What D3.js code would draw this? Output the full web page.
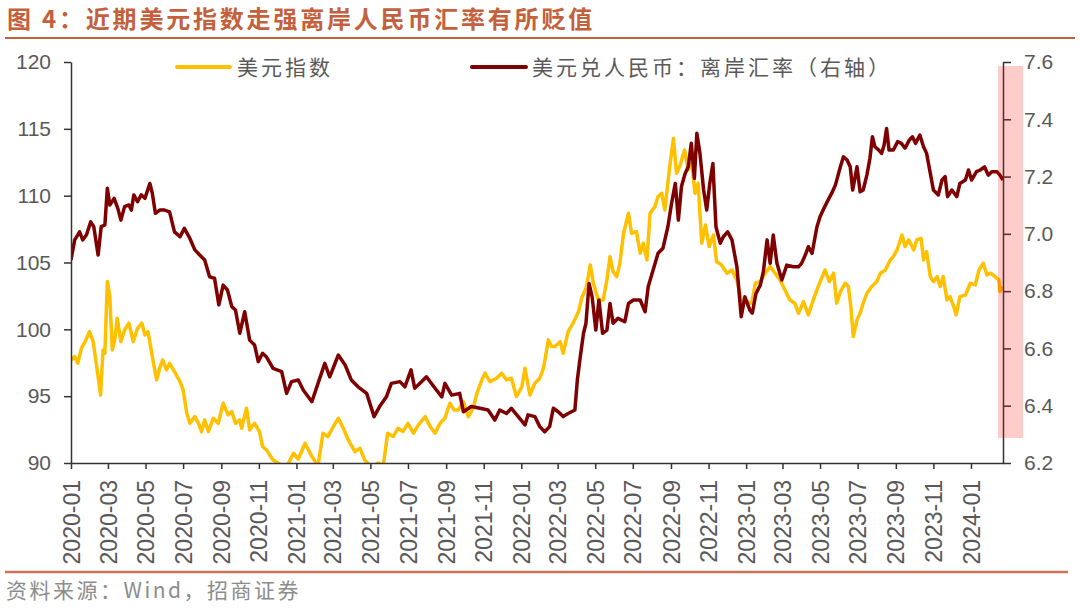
<!DOCTYPE html>
<html><head><meta charset="utf-8">
<script src="https://cdn.jsdelivr.net/npm/d3@7"></script>
<style>body{margin:0;background:#fff;} svg{display:block;}</style>
</head><body><svg id="c" width="1080" height="611"></svg>
<script>
const titleText = "图 4：近期美元指数走强离岸人民币汇率有所贬值";
const sourceText = "资料来源：Wind，招商证券";
const legendLabels = ["美元指数", "美元兑人民币：离岸汇率（右轴）"];
const leftTicks = [90, 95, 100, 105, 110, 115, 120];
const rightTicks = [6.2, 6.4, 6.6, 6.8, 7.0, 7.2, 7.4, 7.6];
const xTickLabels = ["2020-01","2020-03","2020-05","2020-07","2020-09","2020-11",
  "2021-01","2021-03","2021-05","2021-07","2021-09","2021-11",
  "2022-01","2022-03","2022-05","2022-07","2022-09","2022-11",
  "2023-01","2023-03","2023-05","2023-07","2023-09","2023-11","2024-01"];
const xDomain = ["2020-01-01", "2024-02-22"];

// 美元指数 (left axis)
const dxy = [["2020-01-01",97.7],["2020-01-07",97.96],["2020-01-12",97.46],["2020-01-18",98.59],["2020-01-24",99.08],["2020-01-31",99.83],["2020-02-06",99.08],["2020-02-11",97.46],["2020-02-18",95.09],["2020-02-22",98.46],["2020-02-25",98.21],["2020-02-29",103.57],["2020-03-04",102.45],["2020-03-08",98.46],["2020-03-12",99.21],["2020-03-16",100.83],["2020-03-22",99.08],["2020-03-28",99.96],["2020-04-04",100.46],["2020-04-11",99.08],["2020-04-18",100.08],["2020-04-25",100.46],["2020-04-30",99.58],["2020-05-05",99.83],["2020-05-12",97.96],["2020-05-19",96.22],["2020-05-24",97.09],["2020-05-29",97.71],["2020-06-04",96.96],["2020-06-09",97.46],["2020-06-17",96.84],["2020-06-26",96.09],["2020-07-01",95.47],["2020-07-07",93.72],["2020-07-12",92.97],["2020-07-20",93.47],["2020-07-26",92.97],["2020-07-31",92.35],["2020-08-05",93.22],["2020-08-11",92.35],["2020-08-19",93.35],["2020-08-27",92.97],["2020-09-04",94.47],["2020-09-12",93.6],["2020-09-18",93.85],["2020-09-24",92.97],["2020-10-01",93.22],["2020-10-04",92.6],["2020-10-12",94.1],["2020-10-17",92.48],["2020-10-25",92.97],["2020-11-02",92.35],["2020-11-07",91.23],["2020-11-13",91.0],["2020-11-24",90.23],["2020-12-05",89.9],["2020-12-16",89.7],["2020-12-27",90.73],["2021-01-04",90.3],["2021-01-15",91.48],["2021-01-26",90.48],["2021-02-05",89.8],["2021-02-13",92.23],["2021-02-21",91.98],["2021-03-02",92.73],["2021-03-10",93.35],["2021-03-18",92.6],["2021-03-26",91.73],["2021-04-06",90.85],["2021-04-14",91.1],["2021-04-22",90.2],["2021-05-03",89.7],["2021-05-14",90.0],["2021-05-22",89.8],["2021-05-29",92.23],["2021-06-07",91.98],["2021-06-15",92.6],["2021-06-23",92.35],["2021-07-01",92.97],["2021-07-10",92.23],["2021-07-18",92.85],["2021-07-29",93.47],["2021-08-06",92.73],["2021-08-14",92.23],["2021-08-22",92.97],["2021-08-30",93.35],["2021-09-07",94.47],["2021-09-14",93.97],["2021-09-21",93.97],["2021-09-29",94.59],["2021-10-07",93.47],["2021-10-15",94.1],["2021-10-21",95.22],["2021-10-29",96.22],["2021-11-03",96.72],["2021-11-11",96.09],["2021-11-22",96.34],["2021-11-30",96.72],["2021-12-08",96.22],["2021-12-16",96.34],["2021-12-24",94.97],["2022-01-02",95.72],["2022-01-07",97.09],["2022-01-15",95.09],["2022-01-23",95.97],["2022-01-31",96.34],["2022-02-06",97.09],["2022-02-14",99.21],["2022-02-19",98.71],["2022-02-25",98.71],["2022-03-05",99.08],["2022-03-10",98.21],["2022-03-18",99.83],["2022-03-26",100.46],["2022-04-04",101.33],["2022-04-09",102.33],["2022-04-17",103.2],["2022-04-23",104.82],["2022-04-28",103.45],["2022-05-06",102.2],["2022-05-14",102.2],["2022-05-20",103.7],["2022-05-25",105.44],["2022-05-30",104.32],["2022-06-05",103.94],["2022-06-10",104.94],["2022-06-16",107.19],["2022-06-24",108.68],["2022-06-29",107.19],["2022-07-07",107.31],["2022-07-13",105.69],["2022-07-18",106.44],["2022-07-24",105.19],["2022-07-29",108.68],["2022-08-06",109.18],["2022-08-11",109.93],["2022-08-17",110.18],["2022-08-22",108.93],["2022-08-25",110.18],["2022-08-30",112.17],["2022-09-05",114.29],["2022-09-10",111.68],["2022-09-16",112.3],["2022-09-23",113.42],["2022-09-29",111.92],["2022-10-05",112.42],["2022-10-10",110.18],["2022-10-15",110.93],["2022-10-21",106.44],["2022-10-27",107.81],["2022-11-02",106.19],["2022-11-09",107.06],["2022-11-14",105.06],["2022-11-22",104.82],["2022-12-01",104.2],["2022-12-09",104.44],["2022-12-17",103.7],["2022-12-24",102.2],["2023-01-02",102.07],["2023-01-10",101.95],["2023-01-16",103.45],["2023-01-24",103.57],["2023-02-01",104.2],["2023-02-09",104.69],["2023-02-17",104.2],["2023-02-25",103.7],["2023-03-05",102.95],["2023-03-13",102.2],["2023-03-21",101.95],["2023-03-27",101.2],["2023-04-04",102.07],["2023-04-12",101.08],["2023-04-20",102.2],["2023-04-28",103.2],["2023-05-09",104.44],["2023-05-16",103.57],["2023-05-23",104.2],["2023-05-28",101.95],["2023-06-03",102.82],["2023-06-11",103.45],["2023-06-16",103.2],["2023-06-20",101.7],["2023-06-24",99.46],["2023-06-30",100.7],["2023-07-05",101.2],["2023-07-10",101.95],["2023-07-16",102.7],["2023-07-24",103.2],["2023-08-01",103.57],["2023-08-07",104.2],["2023-08-15",104.44],["2023-08-23",105.19],["2023-08-28",105.44],["2023-09-03",105.94],["2023-09-11",107.06],["2023-09-16",106.19],["2023-09-22",106.69],["2023-09-30",105.94],["2023-10-05",106.69],["2023-10-12",106.81],["2023-10-16",105.19],["2023-10-21",105.81],["2023-10-27",103.94],["2023-11-01",103.57],["2023-11-07",103.94],["2023-11-12",103.2],["2023-11-17",103.94],["2023-11-23",102.2],["2023-11-28",102.45],["2023-12-04",101.7],["2023-12-08",101.08],["2023-12-14",102.45],["2023-12-23",102.57],["2023-12-31",103.45],["2024-01-08",103.32],["2024-01-14",104.44],["2024-01-21",104.94],["2024-01-27",104.07],["2024-02-02",104.2],["2024-02-09",103.94],["2024-02-15",103.7],["2024-02-17",102.82],["2024-02-22",103.2]];

// 美元兑人民币：离岸汇率 (right axis)
const cnh = [["2020-01-01",6.909],["2020-01-07",6.979],["2020-01-15",7.007],["2020-01-20",6.979],["2020-01-26",6.996],["2020-02-02",7.042],["2020-02-07",7.025],["2020-02-14",6.926],["2020-02-19",7.025],["2020-02-25",7.031],["2020-02-29",7.159],["2020-03-04",7.101],["2020-03-11",7.124],["2020-03-17",7.089],["2020-03-22",7.048],["2020-03-28",7.095],["2020-04-04",7.101],["2020-04-08",7.083],["2020-04-12",7.136],["2020-04-18",7.112],["2020-04-24",7.136],["2020-04-30",7.124],["2020-05-08",7.176],["2020-05-12",7.142],["2020-05-17",7.072],["2020-05-24",7.083],["2020-06-01",7.083],["2020-06-09",7.077],["2020-06-17",7.007],["2020-06-26",6.99],["2020-07-03",7.019],["2020-07-12",6.984],["2020-07-20",6.944],["2020-07-28",6.926],["2020-08-05",6.909],["2020-08-13",6.85],["2020-08-21",6.845],["2020-08-28",6.752],["2020-09-04",6.821],["2020-09-11",6.804],["2020-09-18",6.746],["2020-09-24",6.734],["2020-10-01",6.653],["2020-10-09",6.728],["2020-10-17",6.629],["2020-10-25",6.612],["2020-10-31",6.554],["2020-11-07",6.583],["2020-11-13",6.571],["2020-11-24",6.53],["2020-12-08",6.519],["2020-12-16",6.443],["2020-12-24",6.484],["2021-01-04",6.49],["2021-01-12",6.455],["2021-01-26",6.414],["2021-02-05",6.478],["2021-02-16",6.548],["2021-02-24",6.501],["2021-03-10",6.577],["2021-03-21",6.542],["2021-03-31",6.49],["2021-04-11",6.466],["2021-04-25",6.443],["2021-05-07",6.362],["2021-05-16",6.397],["2021-05-27",6.431],["2021-06-04",6.478],["2021-06-18",6.484],["2021-06-26",6.466],["2021-07-06",6.525],["2021-07-12",6.461],["2021-07-23",6.484],["2021-07-31",6.501],["2021-08-14",6.461],["2021-08-25",6.431],["2021-08-30",6.478],["2021-09-10",6.437],["2021-09-23",6.443],["2021-09-29",6.379],["2021-10-12",6.397],["2021-10-26",6.391],["2021-11-08",6.385],["2021-11-19",6.35],["2021-11-27",6.385],["2021-12-08",6.373],["2021-12-16",6.391],["2021-12-27",6.362],["2022-01-07",6.333],["2022-01-12",6.368],["2022-01-23",6.362],["2022-01-31",6.327],["2022-02-08",6.309],["2022-02-16",6.327],["2022-02-22",6.391],["2022-03-02",6.379],["2022-03-10",6.362],["2022-03-18",6.373],["2022-03-29",6.385],["2022-04-02",6.49],["2022-04-06",6.559],["2022-04-12",6.653],["2022-04-16",6.688],["2022-04-21",6.827],["2022-04-26",6.78],["2022-05-02",6.664],["2022-05-07",6.769],["2022-05-13",6.653],["2022-05-20",6.664],["2022-05-25",6.757],["2022-05-30",6.688],["2022-06-07",6.705],["2022-06-18",6.693],["2022-06-24",6.757],["2022-07-02",6.769],["2022-07-13",6.769],["2022-07-21",6.728],["2022-07-26",6.815],["2022-08-03",6.874],["2022-08-11",6.932],["2022-08-19",6.95],["2022-08-27",7.025],["2022-09-02",7.107],["2022-09-08",7.176],["2022-09-13",7.048],["2022-09-18",7.165],["2022-09-24",7.211],["2022-09-29",7.234],["2022-10-04",7.316],["2022-10-09",7.194],["2022-10-13",7.351],["2022-10-18",7.281],["2022-10-24",7.153],["2022-10-29",7.083],["2022-11-03",7.176],["2022-11-08",7.246],["2022-11-13",7.025],["2022-11-20",6.967],["2022-11-25",6.99],["2022-12-02",7.007],["2022-12-09",6.979],["2022-12-17",6.885],["2022-12-24",6.711],["2022-12-30",6.78],["2023-01-07",6.734],["2023-01-11",6.723],["2023-01-17",6.792],["2023-01-24",6.821],["2023-01-29",6.868],["2023-02-04",6.979],["2023-02-09",6.897],["2023-02-14",6.996],["2023-02-20",6.897],["2023-02-28",6.839],["2023-03-08",6.891],["2023-03-19",6.885],["2023-03-27",6.885],["2023-04-01",6.897],["2023-04-07",6.926],["2023-04-12",6.955],["2023-04-18",6.932],["2023-04-26",7.025],["2023-05-01",7.06],["2023-05-06",7.083],["2023-05-14",7.118],["2023-05-20",7.142],["2023-05-26",7.171],["2023-06-03",7.234],["2023-06-08",7.269],["2023-06-14",7.258],["2023-06-19",7.234],["2023-06-23",7.153],["2023-06-30",7.234],["2023-07-05",7.147],["2023-07-10",7.153],["2023-07-16",7.205],["2023-07-21",7.264],["2023-07-25",7.339],["2023-07-29",7.304],["2023-08-04",7.293],["2023-08-09",7.281],["2023-08-13",7.31],["2023-08-17",7.368],["2023-08-21",7.293],["2023-08-28",7.293],["2023-09-04",7.322],["2023-09-10",7.316],["2023-09-16",7.299],["2023-09-23",7.328],["2023-09-28",7.339],["2023-10-03",7.316],["2023-10-10",7.345],["2023-10-16",7.304],["2023-10-21",7.281],["2023-10-27",7.211],["2023-11-01",7.153],["2023-11-09",7.136],["2023-11-15",7.188],["2023-11-20",7.2],["2023-11-24",7.13],["2023-12-01",7.153],["2023-12-09",7.13],["2023-12-14",7.176],["2023-12-23",7.188],["2023-12-28",7.223],["2024-01-02",7.188],["2024-01-10",7.217],["2024-01-16",7.223],["2024-01-23",7.234],["2024-01-29",7.205],["2024-02-04",7.217],["2024-02-12",7.217],["2024-02-17",7.205],["2024-02-22",7.188]];

const parse = d3.timeParse("%Y-%m-%d");
const parseM = d3.timeParse("%Y-%m");
const L = 71, R = 1003, T = 62, B = 463;

const svg = d3.select("#c");
const x = d3.scaleTime().domain(xDomain.map(parse)).range([L, R]);
const yL = d3.scaleLinear().domain([90, 120]).range([B, T]);
const yR = d3.scaleLinear().domain([6.2, 7.6]).range([B, T]);

const titleColor = "#C4603C";
const textColor = "#595959";

// title
svg.append("text").attr("x", 7).attr("y", 28)
  .attr("font-family", "'Noto Sans CJK SC', sans-serif").attr("font-size", 24)
  .attr("font-weight", 700).attr("letter-spacing", 2.8)
  .attr("fill", titleColor).text(titleText);
svg.append("line").attr("x1", 5).attr("x2", 1075).attr("y1", 38).attr("y2", 38)
  .attr("stroke", titleColor).attr("stroke-width", 2);

// source
svg.append("line").attr("x1", 5).attr("x2", 1068).attr("y1", 572).attr("y2", 572)
  .attr("stroke", "#C8755A").attr("stroke-width", 2.5);
svg.append("text").attr("x", 6).attr("y", 598)
  .attr("font-family", "'Noto Sans CJK SC', sans-serif").attr("font-size", 21)
  .attr("letter-spacing", 2.5).attr("fill", "#8C8C8C").text(sourceText);

// clip
svg.append("defs").append("clipPath").attr("id", "plot")
  .append("rect").attr("x", L).attr("y", T).attr("width", R - L).attr("height", B - T);

const lineL = d3.line().x(d => x(parse(d[0]))).y(d => yL(d[1]));
const lineR = d3.line().x(d => x(parse(d[0]))).y(d => yR(d[1]));

const g = svg.append("g").attr("clip-path", "url(#plot)");
g.append("path").datum(dxy).attr("d", lineL).attr("fill", "none")
  .attr("stroke", "#FFC000").attr("stroke-width", 3.5).attr("stroke-linejoin", "round");
g.append("path").datum(cnh).attr("d", lineR).attr("fill", "none")
  .attr("stroke", "#7F0000").attr("stroke-width", 3.5).attr("stroke-linejoin", "round");

// axes
const numFont = "'Liberation Sans', Arial, sans-serif";
function styleAxis(sel, fs) {
  sel.selectAll("path").attr("stroke", "#333").attr("stroke-width", 1.5);
  sel.selectAll("line").attr("stroke", "#333").attr("stroke-width", 1.5);
  sel.selectAll("text").attr("font-family", numFont).attr("font-size", fs).attr("fill", textColor);
}
const gl = svg.append("g").attr("transform", `translate(${L},0)`)
  .call(d3.axisLeft(yL).tickValues(leftTicks).tickSize(7).tickSizeOuter(0).tickPadding(13));
styleAxis(gl, 21);
const gr = svg.append("g").attr("transform", `translate(${R},0)`)
  .call(d3.axisRight(yR).tickValues(rightTicks).tickSize(8).tickSizeOuter(0).tickPadding(13).tickFormat(d3.format(".1f")));
styleAxis(gr, 21);
const gb = svg.append("g").attr("transform", `translate(0,${B})`)
  .call(d3.axisBottom(x).tickValues(xTickLabels.map(parseM)).tickSize(6).tickSizeOuter(0).tickFormat(d3.timeFormat("%Y-%m")));
styleAxis(gb, 23);
gb.selectAll("text").attr("transform", "rotate(-90)").attr("text-anchor", "end")
  .attr("x", -17).attr("y", 0).attr("dy", "0.35em");

// legend
const legFont = "'Noto Sans CJK SC', sans-serif";
const legend = [
  {x1: 177, x2: 230, tx: 237, color: "#FFC000", label: legendLabels[0]},
  {x1: 472, x2: 526, tx: 532, color: "#7F0000", label: legendLabels[1]}
];
legend.forEach(l => {
  svg.append("line").attr("x1", l.x1).attr("x2", l.x2).attr("y1", 67).attr("y2", 67)
    .attr("stroke", l.color).attr("stroke-width", 4).attr("stroke-linecap", "round");
  svg.append("text").attr("x", l.tx).attr("y", 75).attr("font-family", legFont)
    .attr("font-size", 21).attr("letter-spacing", 3).attr("fill", textColor).text(l.label);
});

// highlight box
svg.append("rect").attr("x", 998).attr("y", 66).attr("width", 25).attr("height", 372)
  .attr("fill", "#FF0000").attr("fill-opacity", 0.2);
</script></body></html>
